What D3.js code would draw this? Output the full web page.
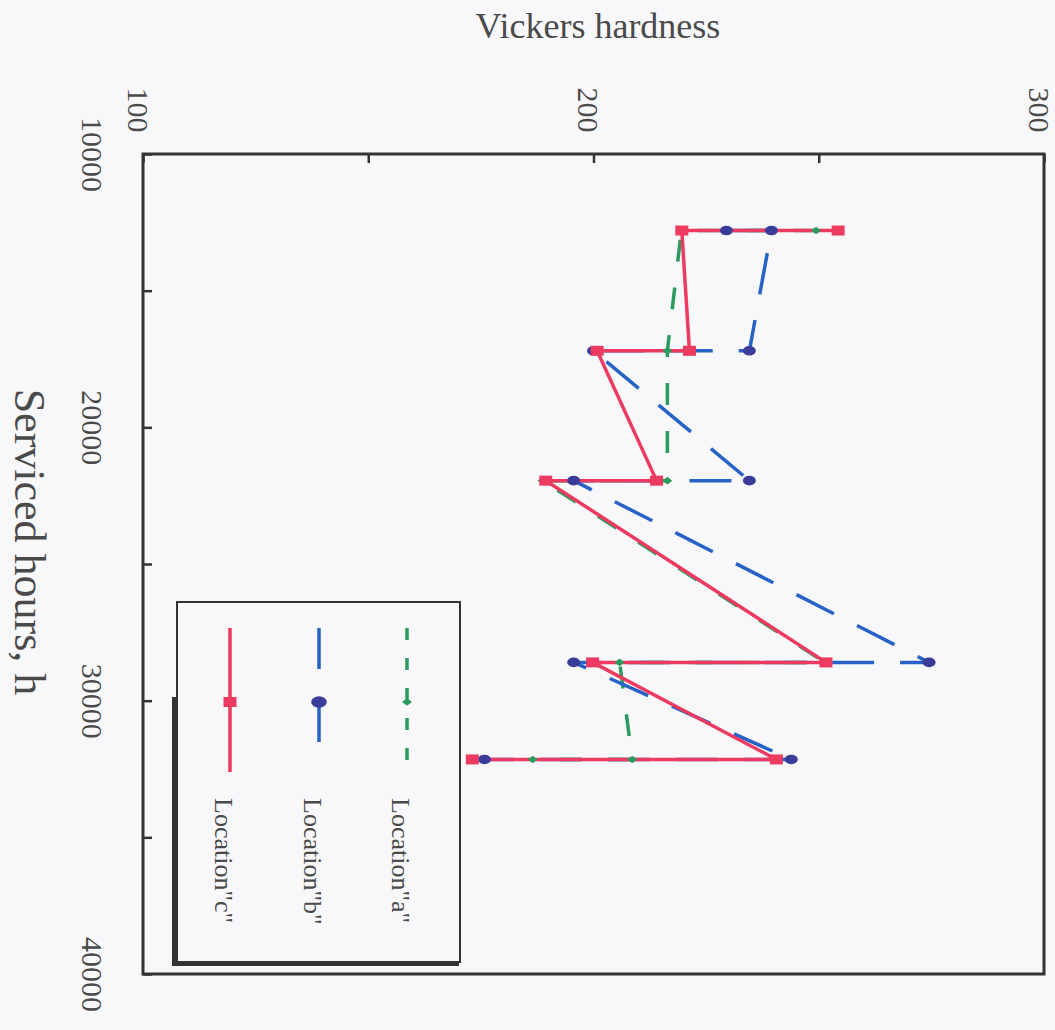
<!DOCTYPE html>
<html>
<head>
<meta charset="utf-8">
<script src="https://cdn.jsdelivr.net/npm/d3@7"></script>
<style>
  html, body { margin: 0; padding: 0; background: #f8f8fa; }
  svg { display: block; }
  text { font-family: "Liberation Serif", "Times New Roman", serif; fill: #4a4a4a; }
</style>
</head>
<body>
<svg id="chart" width="1055" height="1030"></svg>
<script>
// Hardness traverses per service interval (pairs of readings at each inspection)
const seriesNames = ['Location"a"', 'Location"b"', 'Location"c"'];

const hoursA    = [12800, 12800, 17200, 21950, 21950, 28600, 28600, 32150, 32150];
const hardnessA = [249.4, 219.5, 216.4, 216.4, 188.7, 251.4, 205.8, 208.6, 186.5];

const hoursB    = [12800, 12800, 17200, 17200, 21950, 21950, 28600, 28600, 32150, 32150];
const hardnessB = [229.5, 239.5, 234.6, 200.0, 234.6, 195.6, 274.5, 195.6, 243.9, 175.8];

const hoursC    = [12800, 12800, 17200, 17200, 21950, 21950, 28600, 28600, 32150, 32150];
const hardnessC = [254.3, 219.6, 221.3, 200.8, 214.0, 189.4, 251.6, 199.8, 240.6, 173.1];

const hardnessTickValues = [100, 150, 200, 250, 300];
const hardnessTickLabels = ["100", "", "200", "", "300"];
const hoursTickValues = [10000, 15000, 20000, 25000, 30000, 35000, 40000];
const hoursTickLabels = ["10000", "", "20000", "", "30000", "", "40000"];

const svg = d3.select("#chart");
const plot = { left: 143, top: 154, right: 1044, bottom: 974 };

// Hardness runs horizontally, service hours run downward
const x = d3.scaleLinear().domain([100, 300]).range([plot.left, plot.right]);
const y = d3.scaleLinear().domain([10000, 40000]).range([plot.top, plot.bottom]);

const styles = [
  { color: "#2b9c5e", marker: "#2b9c5e", dash: "22,26", shape: "diamond" },
  { color: "#2762c6", marker: "#3a3c9a", dash: "42,26", shape: "circle" },
  { color: "#ec3a60", marker: "#ec3a60", dash: null,    shape: "square" }
];

const series = [
  hoursA.map((h, i) => ({ hours: h, hardness: hardnessA[i] })),
  hoursB.map((h, i) => ({ hours: h, hardness: hardnessB[i] })),
  hoursC.map((h, i) => ({ hours: h, hardness: hardnessC[i] }))
];

// Top axis (hardness) with inward ticks
const topAxis = d3.axisTop(x)
  .tickValues(hardnessTickValues)
  .tickFormat((d, i) => hardnessTickLabels[i])
  .tickSizeInner(-9).tickSizeOuter(0);
const gTop = svg.append("g").attr("transform", `translate(0,${plot.top})`).call(topAxis);
gTop.select(".domain").remove();
gTop.selectAll(".tick line").attr("stroke", "#333").attr("stroke-width", 2.5);
gTop.selectAll(".tick text")
  .attr("x", null).attr("y", null).attr("dy", null)
  .attr("text-anchor", "middle")
  .attr("transform", "translate(-16,-44) rotate(90)")
  .style("font-size", "30px").style("font-family", "Liberation Serif, serif").attr("fill", "#4a4a4a");

// Left axis (service hours) with inward ticks
const leftAxis = d3.axisLeft(y)
  .tickValues(hoursTickValues)
  .tickFormat((d, i) => hoursTickLabels[i])
  .tickSizeInner(-9).tickSizeOuter(0);
const gLeft = svg.append("g").attr("transform", `translate(${plot.left},0)`).call(leftAxis);
gLeft.select(".domain").remove();
gLeft.selectAll(".tick line").attr("stroke", "#333").attr("stroke-width", 2.5);
gLeft.selectAll(".tick text")
  .attr("x", null).attr("y", null).attr("dy", null)
  .attr("text-anchor", "middle")
  .attr("transform", "translate(-61,0) rotate(90)")
  .style("font-size", "30px").style("font-family", "Liberation Serif, serif").attr("fill", "#4a4a4a");

// Plot frame
svg.append("rect")
  .attr("x", plot.left).attr("y", plot.top)
  .attr("width", plot.right - plot.left).attr("height", plot.bottom - plot.top)
  .attr("fill", "none").attr("stroke", "#333").attr("stroke-width", 3);

// Axis titles
svg.append("text")
  .attr("x", 598).attr("y", 38)
  .attr("text-anchor", "middle")
  .style("font-size", "36px")
  .text("Vickers hardness");

svg.append("text")
  .attr("text-anchor", "middle")
  .attr("transform", "translate(15,542) rotate(90)")
  .style("font-size", "44px")
  .text("Serviced hours, h");

// Series lines
const line = d3.line().x(d => x(d.hardness)).y(d => y(d.hours));
series.forEach((data, i) => {
  svg.append("path")
    .datum(data)
    .attr("d", line)
    .attr("fill", "none")
    .attr("stroke", styles[i].color)
    .attr("stroke-width", 3.5)
    .attr("stroke-dasharray", styles[i].dash)
    .attr("stroke-linejoin", "miter");
});

function drawMarker(g, shape, color, cx, cy, scale) {
  const s = scale || 1;
  if (shape === "square") {
    g.append("rect").attr("x", cx - 6.5 * s).attr("y", cy - 5 * s)
      .attr("width", 13 * s).attr("height", 10 * s).attr("fill", color);
  } else if (shape === "circle") {
    g.append("ellipse").attr("cx", cx).attr("cy", cy)
      .attr("rx", 6.5 * s).attr("ry", 4.8 * s).attr("fill", color);
  } else {
    g.append("path")
      .attr("d", `M${cx - 5 * s},${cy} L${cx},${cy - 3.8 * s} L${cx + 5 * s},${cy} L${cx},${cy + 3.8 * s} Z`)
      .attr("fill", color);
  }
}

// Series markers
series.forEach((data, i) => {
  const g = svg.append("g");
  data.forEach(d => drawMarker(g, styles[i].shape, styles[i].marker, x(d.hardness), y(d.hours)));
});

// Legend
const legend = svg.append("g");
legend.append("path")
  .attr("d", "M174,697 V964 H459")
  .attr("fill", "none").attr("stroke", "#333").attr("stroke-width", 4);
legend.append("rect")
  .attr("x", 177).attr("y", 602).attr("width", 283).attr("height", 360)
  .attr("fill", "none").attr("stroke", "#333").attr("stroke-width", 2);

const legendX = [407, 319, 230];
seriesNames.forEach((name, i) => {
  const lx = legendX[i];
  legend.append("line")
    .attr("x1", lx).attr("x2", lx).attr("y1", 628).attr("y2", 772)
    .attr("stroke", styles[i].color).attr("stroke-width", 3.5)
    .attr("stroke-dasharray", i === 0 ? "12,18" : (i === 1 ? "41,32" : null));
  drawMarker(legend, styles[i].shape, styles[i].marker, lx, 702, i === 1 ? 1.2 : 1);
  legend.append("text")
    .attr("text-anchor", "start")
    .attr("transform", `translate(${lx - 15},798) rotate(90)`)
    .style("font-size", "26px")
    .text(name);
});
</script>
</body>
</html>
